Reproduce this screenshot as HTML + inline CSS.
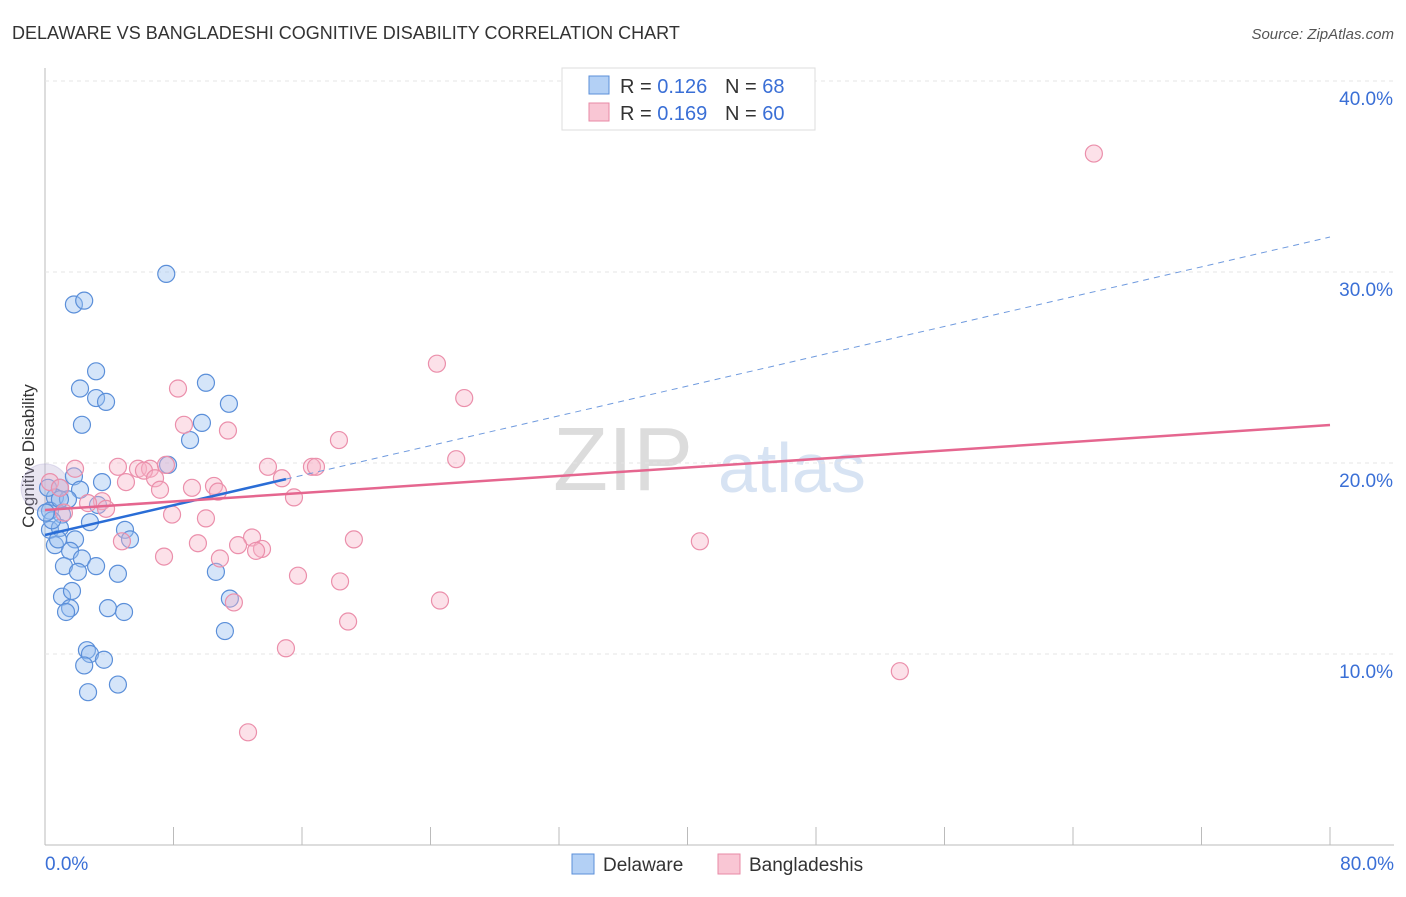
<!DOCTYPE html>
<html><head><meta charset="utf-8"><style>
body{margin:0;background:#fff;font-family:"Liberation Sans",sans-serif}
svg text{font-family:"Liberation Sans",sans-serif}
</style></head><body>
<svg id="c" width="1406" height="892">
<text x="12" y="39" font-size="18" fill="#333">DELAWARE VS BANGLADESHI COGNITIVE DISABILITY CORRELATION CHART</text>
<text x="1394" y="39" font-size="15" fill="#555" font-style="italic" text-anchor="end">Source: ZipAtlas.com</text>
<text x="34" y="456" font-size="17" fill="#333" transform="rotate(-90 34 456)" text-anchor="middle">Cognitive Disability</text>
<text x="553" y="490" font-size="90" fill="#dcdcdc" font-family="Liberation Serif">ZIP</text>
<text x="718" y="492" font-size="70" fill="#d7e3f3">atlas</text>
<g id="grid"></g><g id="marks"></g>
<g>
<rect x="562" y="68" width="253" height="62" fill="#fff" stroke="#ddd"/>
<rect x="589" y="76" width="20" height="18" fill="#b3d0f5" stroke="#5b8fd9"/>
<rect x="589" y="103" width="20" height="18" fill="#f9c6d4" stroke="#e88aa6"/>
<text x="620" y="93" font-size="20" fill="#333">R = <tspan fill="#3a6fd6">0.126</tspan></text>
<text x="725" y="93" font-size="20" fill="#333">N = <tspan fill="#3a6fd6">68</tspan></text>
<text x="620" y="120" font-size="20" fill="#333">R = <tspan fill="#3a6fd6">0.169</tspan></text>
<text x="725" y="120" font-size="20" fill="#333">N = <tspan fill="#3a6fd6">60</tspan></text>
</g>
<g>
<rect x="572" y="854" width="22" height="20" fill="#b3d0f5" stroke="#5b8fd9"/>
<text x="603" y="871" font-size="19" fill="#333">Delaware</text>
<rect x="718" y="854" width="22" height="20" fill="#f9c6d4" stroke="#e88aa6"/>
<text x="749" y="871" font-size="19" fill="#333">Bangladeshis</text>
</g>
</svg>
<script>
const yTicks=[10,20,30,40];
const xTickLabels=["0.0%","80.0%"];
const blueX=[7.55,1.8,2.44,3.18,2.18,10.02,3.18,3.8,11.45,2.3,9.77,9.03,7.66,1.8,3.55,0.93,2.18,0.62,1.43,3.3,0.31,1.06,2.8,0.31,0.93,4.98,5.29,1.87,0.62,1.56,2.3,1.18,3.18,4.54,2.05,10.64,1.06,1.68,3.92,1.56,4.92,1.31,11.51,11.2,2.61,2.8,3.67,2.44,2.68,4.54,0.19,0.44,0.81,0.06,0.93];
const blueY=[29.9,28.3,28.5,24.8,23.9,24.2,23.4,23.2,23.1,22.0,22.1,21.2,19.9,19.3,19.0,18.7,18.6,18.2,18.1,17.8,17.5,17.3,16.9,16.5,16.6,16.5,16.0,16.0,15.7,15.4,15.0,14.6,14.6,14.2,14.3,14.3,13.0,13.3,12.4,12.4,12.2,12.2,12.9,11.2,10.2,10.0,9.7,9.4,8.0,8.4,18.7,17.0,16.0,17.4,18.1];
const pinkX=[65.3,24.4,26.1,8.28,8.65,11.39,18.3,25.6,1.87,4.54,5.79,6.54,6.16,7.53,13.88,16.62,16.87,14.75,6.85,5.04,9.15,10.52,7.16,10.77,15.5,3.55,2.68,3.8,1.18,7.91,10.02,12.89,19.23,4.79,12.02,9.52,13.51,13.14,7.41,10.89,15.75,18.37,40.77,24.59,11.76,18.87,15.0,53.22,12.64,0.31,0.93];
const pinkY=[36.2,25.2,23.4,23.9,22.0,21.7,21.2,20.2,19.7,19.8,19.7,19.7,19.6,19.9,19.8,19.8,19.8,19.2,19.2,19.0,18.7,18.8,18.6,18.5,18.2,18.0,17.9,17.6,17.4,17.3,17.1,16.1,16.0,15.9,15.7,15.8,15.5,15.4,15.1,15.0,14.1,13.8,15.9,12.8,12.7,11.7,10.3,9.1,5.9,19.0,18.7];
const blueTrend=[16.23,31.83];
const pinkTrend=[17.54,21.99];
const blueSolidEnd=15;
const X=v=>45+v/80*1285, Y=v=>845-v*19.1;
const NS="http://www.w3.org/2000/svg";
const grid=document.getElementById('grid'), marks=document.getElementById('marks');
function mk(p,tag,a){const e=document.createElementNS(NS,tag);for(const k in a)e.setAttribute(k,a[k]);p.appendChild(e);return e;}
let ax=mk(grid,'line',{x1:45,y1:68,x2:45,y2:845,stroke:'#bbb'});


let bx=mk(grid,'line',{x1:45,y1:845,x2:1394,y2:845,stroke:'#bbb'});


yTicks.forEach(t=>{
 let l=mk(grid,'line',{x1:45,x2:1394,y1:Y(t),y2:Y(t),stroke:'#e4e4e4','stroke-dasharray':'4,4'});
 
 
 let tx=mk(grid,'text',{x:1393,y:Y(t)+24,'font-size':19,fill:'#3a6fd6','text-anchor':'end'});tx.textContent=t.toFixed(1)+'%';
 
 
});
for(let i=0;i<=10;i++){let l=mk(grid,'line',{x1:X(i*8),x2:X(i*8),y1:845,y2:i==0?845:827,stroke:'#bbb'});
 
 }
let t0=mk(grid,'text',{x:45,y:870,'font-size':19,fill:'#3a6fd6'});t0.textContent=xTickLabels[0];


let t1=mk(grid,'text',{x:1394,y:870,'font-size':19,fill:'#3a6fd6','text-anchor':'end'});t1.textContent=xTickLabels[1];


let big=mk(marks,'circle',{cx:X(0),cy:Y(18.7),r:24,fill:'rgba(180,170,210,0.3)',stroke:'rgba(150,140,200,0.25)'});


blueX.forEach((x,i)=>{let c=mk(marks,'circle',{cx:X(x),cy:Y(blueY[i]),r:8.5,fill:'rgba(150,190,240,0.4)',stroke:'#5b8fd9','stroke-width':1.2});
 
 });
pinkX.forEach((x,i)=>{let c=mk(marks,'circle',{cx:X(x),cy:Y(pinkY[i]),r:8.5,fill:'rgba(248,180,200,0.4)',stroke:'#eb8fab','stroke-width':1.2});
 
 });
const bAt=x=>blueTrend[0]+(blueTrend[1]-blueTrend[0])*x/80;
let bl=mk(marks,'line',{x1:X(0),y1:Y(bAt(0)),x2:X(blueSolidEnd),y2:Y(bAt(blueSolidEnd)),stroke:'#2a6dd6','stroke-width':2.5});


let bd=mk(marks,'line',{x1:X(blueSolidEnd),y1:Y(bAt(blueSolidEnd)),x2:X(80),y2:Y(bAt(80)),stroke:'#6f9ade','stroke-width':1,'stroke-dasharray':'6,5'});


let pl=mk(marks,'line',{x1:X(0),y1:Y(pinkTrend[0]),x2:X(80),y2:Y(pinkTrend[1]),stroke:'#e5668f','stroke-width':2.5});


</script>
</body></html>
